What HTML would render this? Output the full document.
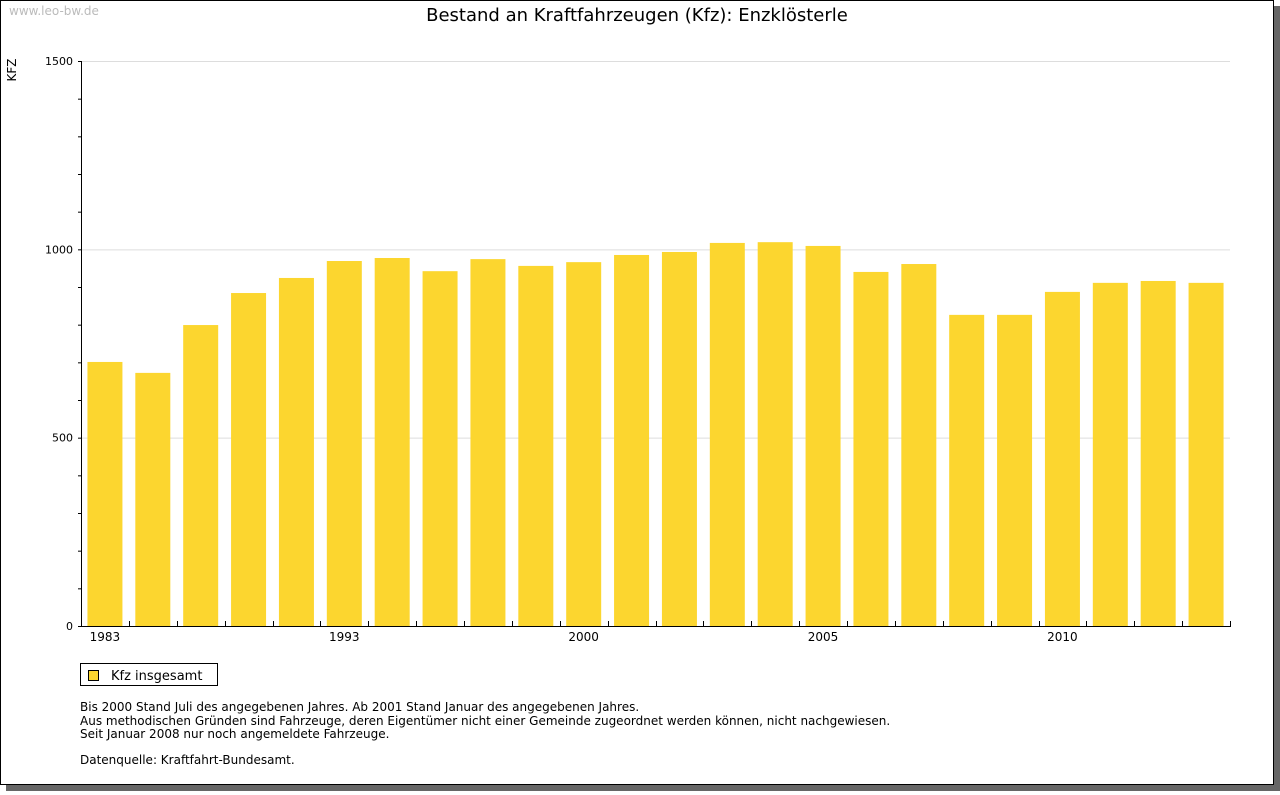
<!DOCTYPE html>
<html><head><meta charset="utf-8"><style>
html,body{margin:0;padding:0;background:#fff}
body{width:1280px;height:791px;position:relative;overflow:hidden;font-family:"DejaVu Sans","Liberation Sans",sans-serif}
</style></head><body>
<svg width="1280" height="791" xmlns="http://www.w3.org/2000/svg">
<rect x="6" y="6" width="1274" height="785" fill="#666"/>
<rect x="0.5" y="0.5" width="1273" height="784" fill="#fff" stroke="#000"/>
<text x="9" y="15" font-size="12" fill="#bbb">www.leo-bw.de</text>
<text x="637" y="21" font-size="18" text-anchor="middle" fill="#000">Bestand an Kraftfahrzeugen (Kfz): Enzklösterle</text>
<text transform="translate(16,70) rotate(-90)" font-size="12" text-anchor="middle">KFZ</text>
<g id="grid"></g><g id="bars"></g><g id="axes"></g>
<g>
<rect x="80.5" y="663.5" width="137" height="22" fill="#fff" stroke="#000"/>
<rect x="88.5" y="670.5" width="10" height="10" fill="#fcd62f" stroke="#000"/>
<text x="111" y="680" font-size="13">Kfz insgesamt</text>
</g>
<g font-size="12" fill="#000">
<text x="80" y="711">Bis 2000 Stand Juli des angegebenen Jahres. Ab 2001 Stand Januar des angegebenen Jahres.</text>
<text x="80" y="725">Aus methodischen Gründen sind Fahrzeuge, deren Eigentümer nicht einer Gemeinde zugeordnet werden können, nicht nachgewiesen.</text>
<text x="80" y="738">Seit Januar 2008 nur noch angemeldete Fahrzeuge.</text>
<text x="80" y="764">Datenquelle: Kraftfahrt-Bundesamt.</text>
</g>
</svg>
<script>
const categories=[1983,1985,1987,1989,1991,1993,1995,1997,1998,1999,2000,2001,2002,2003,2004,2005,2006,2007,2008,2009,2010,2011,2012,2013];
const values=[701,672,799,884,924,969,977,942,974,956,966,985,993,1017,1019,1009,940,961,826,826,887,911,916,911];
const xLabels=["1983","","","","","1993","","","","","2000","","","","","2005","","","","","2010","","",""];
const yTicks=[0,500,1000,1500];
const NS="http://www.w3.org/2000/svg";
const X0=81,X1=1230,Y0=626,Y1=61,YMAX=1500;
const step=(X1-X0)/categories.length;
const xs=i=>X0+step*i+step/2;
const ys=v=>Y0-(v/YMAX)*(Y0-Y1);
function mk(t,a,p){const e=document.createElementNS(NS,t);for(const k in a)e.setAttribute(k,a[k]);p.appendChild(e);return e;}
const grid=document.getElementById('grid'),bars=document.getElementById('bars'),axes=document.getElementById('axes');
yTicks.forEach(v=>{if(v>0){const l=mk('line',{x1:X0,x2:X1,y1:ys(v)+.5,y2:ys(v)+.5,stroke:'#ddd'},grid);

}
const t=mk('text',{x:X0-8,y:ys(v)+4,'font-size':11,'text-anchor':'end'},axes);t.textContent=v;

});
for(let v=0;v<=YMAX;v+=100){mk('line',{x1:X0-3,x2:X0,y1:ys(v)+.5,y2:ys(v)+.5,stroke:'#000'},axes);}
values.forEach((v,i)=>{const w=35;const r=mk('rect',{x:xs(i)-w/2,y:ys(v),width:w,height:Y0-ys(v),fill:'#fcd62f'},bars);


if(xLabels[i]){const t=mk('text',{x:xs(i),y:Y0+15,'font-size':12,'text-anchor':'middle'},axes);t.textContent=xLabels[i];

}});
for(let i=1;i<=categories.length;i++){const x=Math.round(X0+step*i)+.5;mk('line',{x1:x,x2:x,y1:Y0-5,y2:Y0,stroke:'#000'},axes);}
const ya=mk('line',{x1:X0+.5,x2:X0+.5,y1:Y1,y2:Y0+.5,stroke:'#000'},axes);


const xa=mk('line',{x1:X0,x2:X1+1,y1:Y0+.5,y2:Y0+.5,stroke:'#000'},axes);


</script>
</body></html>
